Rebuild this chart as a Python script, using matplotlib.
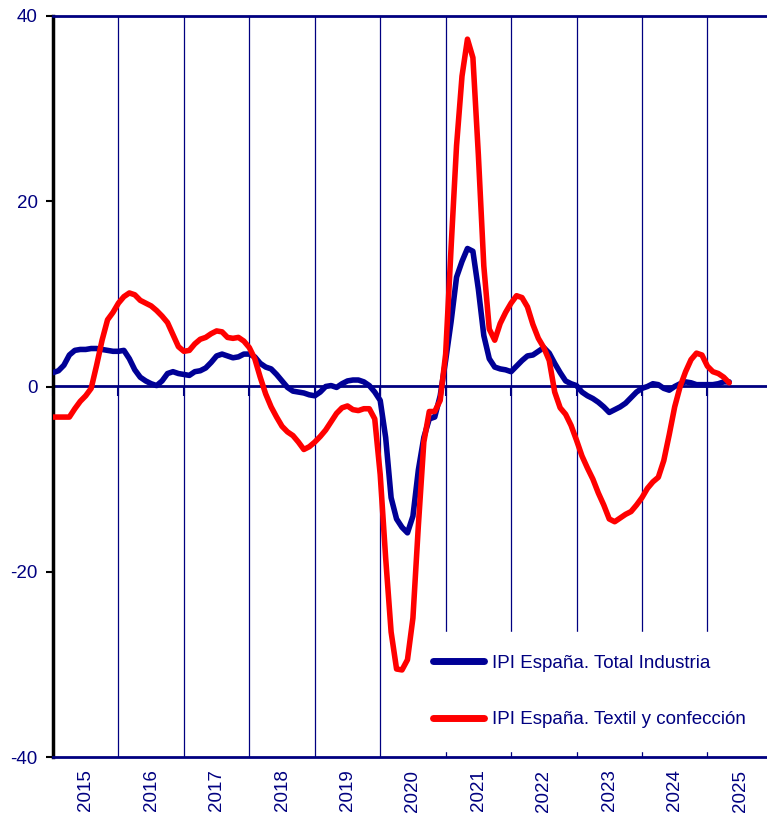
"""IPI España: total industria vs textil y confección (monthly, % var)."""

import numpy as np
import pandas as pd
import matplotlib
matplotlib.use("Agg")
import matplotlib.pyplot as plt
from matplotlib.ticker import FixedLocator, NullFormatter

plt.rcParams["font.family"] = ["Liberation Sans", "DejaVu Sans"]
plt.rcParams["axes.unicode_minus"] = False

# ---------------------------------------------------------------------------
# Data (monthly, Jan 2015 .. May 2025)
# ---------------------------------------------------------------------------

months = pd.date_range("2015-01-01", periods=125, freq="MS")

total_industria = [
    1.5, 1.7, 2.3, 3.4, 3.9, 4.0, 4.0, 4.1, 4.1, 4.0, 3.9, 3.8,          # 2015
    3.8, 3.9, 3.0, 1.8, 1.0, 0.6, 0.3, 0.1, 0.6, 1.4, 1.6, 1.4,          # 2016
    1.3, 1.2, 1.6, 1.7, 2.0, 2.6, 3.3, 3.5, 3.3, 3.1, 3.2, 3.5,          # 2017
    3.5, 3.2, 2.5, 2.1, 1.9, 1.3, 0.6, -0.1, -0.5, -0.6, -0.7, -0.9,     # 2018
    -1.0, -0.6, 0.0, 0.1, -0.1, 0.3, 0.6, 0.7, 0.7, 0.5, 0.1, -0.6,      # 2019
    -1.5, -5.5, -12.0, -14.3, -15.2, -15.8, -14.0, -9.0, -5.5, -3.5, -3.3, -1.0,  # 2020
    2.8, 7.0, 11.8, 13.5, 14.9, 14.6, 10.5, 5.5, 3.0, 2.1, 1.9, 1.8,     # 2021
    1.6, 2.2, 2.8, 3.3, 3.4, 3.8, 4.2, 3.6, 2.5, 1.5, 0.6, 0.3,          # 2022
    0.1, -0.6, -1.0, -1.3, -1.7, -2.2, -2.8, -2.5, -2.2, -1.8, -1.2, -0.6,  # 2023
    -0.2, 0.0, 0.3, 0.2, -0.2, -0.4, 0.0, 0.3, 0.5, 0.4, 0.2, 0.2,       # 2024
    0.2, 0.2, 0.3, 0.5, 0.5,                                             # 2025
]

textil_confeccion = [
    -3.3, -3.3, -3.3, -3.3, -2.4, -1.6, -1.0, -0.2, 2.3, 5.0, 7.2, 8.0,  # 2015
    9.0, 9.7, 10.1, 9.9, 9.3, 9.0, 8.7, 8.2, 7.6, 6.9, 5.6, 4.3,         # 2016
    3.8, 3.9, 4.6, 5.1, 5.3, 5.7, 6.0, 5.9, 5.3, 5.2, 5.3, 4.9,          # 2017
    4.2, 3.0, 1.0, -0.8, -2.2, -3.3, -4.3, -4.9, -5.3, -6.0, -6.8, -6.5,  # 2018
    -6.0, -5.4, -4.7, -3.8, -2.9, -2.3, -2.1, -2.5, -2.6, -2.4, -2.4, -3.5,  # 2019
    -9.5, -18.5, -26.5, -30.5, -30.6, -29.5, -25.0, -15.0, -6.0, -2.7, -2.7, -1.5,  # 2020
    3.5, 15.0, 26.0, 33.5, 37.5, 35.5, 25.0, 13.0, 6.2, 5.0, 6.8, 8.0,   # 2021
    9.0, 9.8, 9.6, 8.6, 6.7, 5.2, 4.2, 2.8, -0.6, -2.3, -3.0, -4.2,      # 2022
    -5.8, -7.5, -8.8, -10.0, -11.5, -12.8, -14.3, -14.6, -14.2, -13.8, -13.5, -12.8,  # 2023
    -12.0, -11.0, -10.3, -9.8, -8.0, -5.2, -2.2, 0.0, 1.6, 2.9, 3.6, 3.4,  # 2024
    2.2, 1.6, 1.4, 1.0, 0.4,                                             # 2025
]

years = list(range(2015, 2026))
y_ticks = [-40, -20, 0, 20, 40]

NAVY = "#000080"
BLUE = "#000096"
RED = "#FF0000"

# decimal-year position of each month
t = months.year + (months.month - 1) / 12.0

fig = plt.figure(figsize=(7.67, 8.15), dpi=100)
ax = fig.add_axes([53 / 767, 58 / 815, 714 / 767, 741 / 815])

ax.plot(t, total_industria, color=BLUE, lw=4.0, solid_joinstyle="round",
        solid_capstyle="round", label="IPI España. Total Industria", zorder=3)
ax.plot(t, textil_confeccion, color=RED, lw=4.0, solid_joinstyle="round",
        solid_capstyle="round", label="IPI España. Textil y confección", zorder=4)

ax.set_xlim(2015, 2015 + 714 / 65.44)
ax.set_ylim(-40, 40)

# year grid + labels between the grid lines
ax.xaxis.set_major_locator(FixedLocator(years[1:]))
ax.xaxis.set_major_formatter(NullFormatter())
ax.xaxis.set_minor_locator(FixedLocator([y + 0.5 for y in years]))
ax.set_xticklabels([str(y) for y in years], minor=True, rotation=90,
                   color=NAVY, fontsize=13.5)
ax.tick_params(axis="x", which="both", length=0, pad=9)
ax.grid(axis="x", which="major", color=NAVY, lw=0.9)

ax.set_yticks(y_ticks)
ax.set_yticklabels([str(v) for v in y_ticks], color=NAVY, fontsize=13.5)
ax.tick_params(axis="y", length=5, width=1.5, color="black", pad=6)

for side in ("top", "bottom"):
    ax.spines[side].set_color(NAVY)
    ax.spines[side].set_linewidth(2)
ax.spines["left"].set_color("black")
ax.spines["left"].set_linewidth(2.5)
ax.spines["right"].set_visible(False)

# zero axis with year tick marks pointing down
zero_ax = ax.secondary_xaxis(0.5)
zero_ax.set_alignment("bottom")
zero_ax.set_xticks(years)
zero_ax.set_xticklabels([])
zero_ax.tick_params(length=7, width=1.5, color=NAVY, direction="out")
for side in ("top", "bottom"):
    zero_ax.spines[side].set_color(NAVY)
    zero_ax.spines[side].set_linewidth(2)

leg = ax.legend(loc="upper left", bbox_to_anchor=(0.500, 0.1687),
                borderaxespad=0, borderpad=1.2, frameon=True, fancybox=False,
                facecolor="white", edgecolor="white", framealpha=1,
                handlelength=2.75, handletextpad=0.4, labelspacing=2.1,
                fontsize=13.5)
for txt in leg.get_texts():
    txt.set_color(NAVY)
for h in leg.get_lines():
    h.set_linewidth(5)
# above the grid lines, below the data lines
leg.set_zorder(2.5)

fig.savefig("out.png", dpi=100)
